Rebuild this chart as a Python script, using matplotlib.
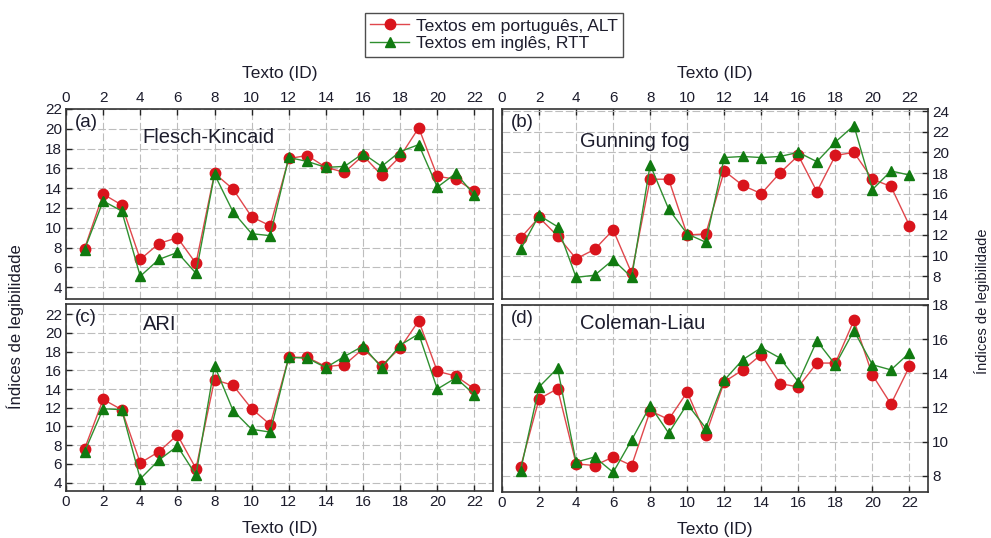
import matplotlib
matplotlib.use('Agg')
import matplotlib.pyplot as plt
import numpy as np

plt.rcParams['font.family'] = ['Liberation Sans', 'DejaVu Sans']

# text IDs
ids = np.arange(1, 23)

# (a) Flesch-Kincaid
fk_pt = [7.9, 13.4, 12.3, 6.8, 8.4, 9.0, 6.4, 15.5, 13.9, 11.1, 10.2,
         17.0, 17.3, 16.1, 15.6, 17.3, 15.3, 17.2, 20.1, 15.2, 14.9, 13.7]
fk_en = [7.8, 12.7, 11.7, 5.1, 6.8, 7.5, 5.4, 15.4, 11.6, 9.4, 9.2,
         17.1, 16.7, 16.1, 16.2, 17.5, 16.2, 17.7, 18.4, 14.1, 15.5, 13.3]

# (b) Gunning fog
gf_pt = [11.7, 13.7, 11.9, 9.7, 10.6, 12.5, 8.3, 17.4, 17.4, 12.0, 12.1,
         18.2, 16.8, 16.0, 18.0, 19.7, 16.2, 19.7, 20.0, 17.4, 16.7, 12.9]
gf_en = [10.6, 13.9, 12.8, 7.9, 8.1, 9.6, 7.9, 18.8, 14.5, 12.1, 11.3,
         19.5, 19.6, 19.5, 19.6, 20.0, 19.1, 21.0, 22.6, 16.4, 18.2, 17.8]

# (c) ARI
ari_pt = [7.6, 12.9, 11.8, 6.1, 7.3, 9.1, 5.5, 15.0, 14.4, 11.9, 10.2,
          17.4, 17.4, 16.4, 16.6, 18.3, 16.5, 18.4, 21.3, 15.9, 15.4, 14.0]
ari_en = [7.3, 11.9, 11.8, 4.4, 6.4, 7.9, 4.8, 16.5, 11.7, 9.7, 9.4,
          17.4, 17.3, 16.3, 17.5, 18.6, 16.3, 18.7, 19.9, 14.0, 15.2, 13.4]

# (d) Coleman-Liau
cl_pt = [8.5, 12.5, 13.1, 8.7, 8.6, 9.1, 8.6, 11.8, 11.3, 12.9, 10.4,
         13.5, 14.2, 15.1, 13.4, 13.2, 14.6, 14.6, 17.1, 13.9, 12.2, 14.4]
cl_en = [8.3, 13.2, 14.3, 8.8, 9.1, 8.2, 10.1, 12.1, 10.5, 12.2, 10.8,
         13.6, 14.8, 15.5, 14.9, 13.5, 15.9, 14.5, 16.5, 14.5, 14.2, 15.2]

panels = [
    ('(a)', 'Flesch-Kincaid', fk_pt, fk_en),
    ('(b)', 'Gunning fog', gf_pt, gf_en),
    ('(c)', 'ARI', ari_pt, ari_en),
    ('(d)', 'Coleman-Liau', cl_pt, cl_en),
]

W, H = 991, 538
fig = plt.figure(figsize=(W / 100, H / 100), dpi=100)


def px_axes(left, top, right, bottom):
    return fig.add_axes([left / W, 1 - bottom / H, (right - left) / W, (bottom - top) / H])


boxes = [(66, 109, 493, 299), (502, 109, 928, 299), (66, 304, 493, 491), (502, 305, 928, 492)]
ylims = [(2.8, 22), (5.8, 24.2), (3.1, 23.1), (7.05, 18)]
yticks = [np.arange(4, 23, 2), np.arange(8, 25, 2), np.arange(4, 23, 2), np.arange(8, 19, 2)]
name_pos = [(0.18, 0.85), (0.183, 0.83), (0.18, 0.89), (0.183, 0.90)]

red_line = '#e0474c'
red_mk = '#d9141c'
green_line = '#2f8f2f'
green_mk = '#107a10'
txt = '#1c1c2c'

axes = []
for i, (tag, name, pt, en) in enumerate(panels):
    ax = px_axes(*boxes[i])
    axes.append(ax)
    ax.plot(ids, pt, color=red_line, lw=1.0, marker='o', ms=7.5,
            mfc=red_mk, mec=red_mk, label='Textos em português, ALT', zorder=3)
    ax.plot(ids, en, color=green_line, lw=1.0, marker='^', ms=7.5,
            mfc=green_mk, mec=green_mk, label='Textos em inglês, RTT', zorder=4)
    ax.set_xlim(0, 23)
    ax.set_ylim(*ylims[i])
    ax.set_xticks(np.arange(0, 23, 2))
    ax.set_yticks(yticks[i])
    ax.grid(True, color='#bdbdbd', linestyle=(0, (7, 2.5)), lw=0.8)
    ax.set_axisbelow(True)
    for sp in ax.spines.values():
        sp.set_color('#333333')
        sp.set_linewidth(1.2)
    ax.tick_params(direction='in', length=4, width=1, colors='#222222',
                   labelcolor=txt, labelsize=11, pad=3)

    top_row = i < 2
    left_col = i % 2 == 0
    ax.tick_params(axis='x', top=top_row, bottom=not top_row,
                   labeltop=top_row, labelbottom=not top_row)
    ax.tick_params(axis='y', left=left_col, right=not left_col,
                   labelleft=left_col, labelright=not left_col)
    if top_row:
        ax.xaxis.set_label_position('top')
        ax.set_xlabel('Texto (ID)', fontsize=12.5, color=txt, labelpad=9.5)
    else:
        ax.set_xlabel('Texto (ID)', fontsize=12.5, color=txt, labelpad=8.5)

    ax.text(0.02, 0.975, tag, transform=ax.transAxes, fontsize=13.5,
            color=txt, va='top', ha='left')
    ax.text(name_pos[i][0], name_pos[i][1], name, transform=ax.transAxes,
            fontsize=14.5, color=txt, va='center', ha='left')

fig.text(15 / W, 1 - 327 / H, 'Índices de legibilidade', rotation=90, fontsize=12,
         color=txt, ha='center', va='center')
fig.text(982 / W, 1 - 301 / H, 'Índices de legibilidade', rotation=90, fontsize=10.5,
         color=txt, ha='center', va='center')

handles, labels = axes[0].get_legend_handles_labels()
leg = fig.legend(handles, labels, loc='upper left',
                 bbox_to_anchor=(365 / W, 1 - 13 / H), fontsize=12.6,
                 frameon=True, fancybox=False, edgecolor='#222222',
                 handlelength=2.2, handletextpad=0.4, borderpad=0.3,
                 labelspacing=0.15, borderaxespad=0)
leg.get_frame().set_linewidth(1.0)
for t in leg.get_texts():
    t.set_color(txt)

fig.savefig('out.png', dpi=100)
